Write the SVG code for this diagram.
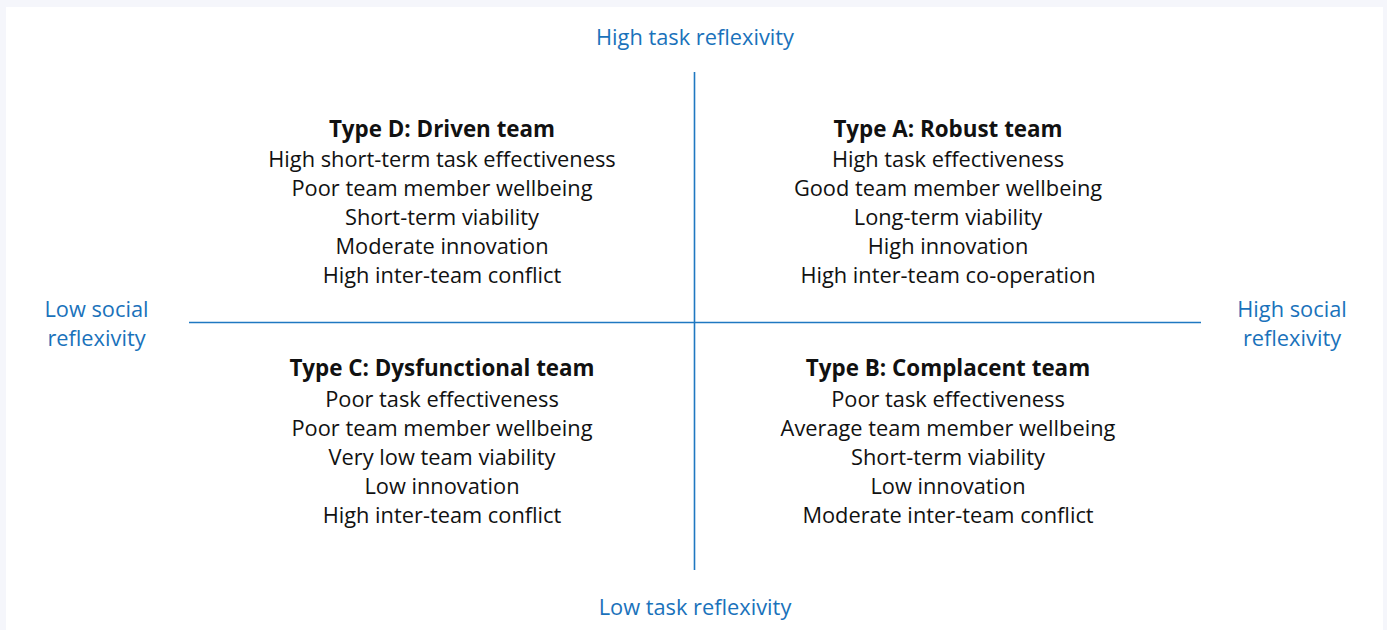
<svg xmlns="http://www.w3.org/2000/svg" width="1387" height="630" viewBox="0 0 1387 630">
<style>
.ax{font-family:"Open Sans","Noto Sans",sans-serif;font-size:21.8px;fill:#1a72bb;text-anchor:middle}
.t{font-family:"Open Sans","Noto Sans",sans-serif;font-size:21.8px;fill:#111;text-anchor:middle}
.h{font-weight:bold;font-size:22.4px}
.ln{stroke:#1f78c1;stroke-width:1.6;fill:none}
</style>
<rect x="0" y="0" width="1387" height="630" fill="#f5f6fb"/>
<rect x="6" y="7" width="1377" height="623" fill="#ffffff"/>
<g id="connectors">
<line class="ln" x1="694.5" y1="72" x2="694.5" y2="570"/>
<line class="ln" x1="189" y1="322.5" x2="1201" y2="322.5"/>
</g>
<g id="axis-top"><text class="ax" x="695" y="44.5">High task reflexivity</text></g>
<g id="axis-bottom"><text class="ax" x="695" y="614.5">Low task reflexivity</text></g>
<g id="axis-left"><text class="ax" x="96.5" y="316.5">Low social</text><text class="ax" x="96.5" y="345.5">reflexivity</text></g>
<g id="axis-right"><text class="ax" x="1292" y="316.5">High social</text><text class="ax" x="1292" y="345.5">reflexivity</text></g>
<g id="typeD">
<text class="t h" x="442" y="136.5">Type D: Driven team</text>
<text class="t" x="442" y="166.5">High short-term task effectiveness</text>
<text class="t" x="442" y="195.5">Poor team member wellbeing</text>
<text class="t" x="442" y="224.5">Short-term viability</text>
<text class="t" x="442" y="253.5">Moderate innovation</text>
<text class="t" x="442" y="282.5">High inter-team conflict</text>
</g>
<g id="typeA">
<text class="t h" x="948" y="136.5">Type A: Robust team</text>
<text class="t" x="948" y="166.5">High task effectiveness</text>
<text class="t" x="948" y="195.5">Good team member wellbeing</text>
<text class="t" x="948" y="224.5">Long-term viability</text>
<text class="t" x="948" y="253.5">High innovation</text>
<text class="t" x="948" y="282.5">High inter-team co-operation</text>
</g>
<g id="typeC">
<text class="t h" x="442" y="375.5">Type C: Dysfunctional team</text>
<text class="t" x="442" y="406.5">Poor task effectiveness</text>
<text class="t" x="442" y="435.5">Poor team member wellbeing</text>
<text class="t" x="442" y="464.5">Very low team viability</text>
<text class="t" x="442" y="493.5">Low innovation</text>
<text class="t" x="442" y="522.5">High inter-team conflict</text>
</g>
<g id="typeB">
<text class="t h" x="948" y="375.5">Type B: Complacent team</text>
<text class="t" x="948" y="406.5">Poor task effectiveness</text>
<text class="t" x="948" y="435.5">Average team member wellbeing</text>
<text class="t" x="948" y="464.5">Short-term viability</text>
<text class="t" x="948" y="493.5">Low innovation</text>
<text class="t" x="948" y="522.5">Moderate inter-team conflict</text>
</g>
</svg>
